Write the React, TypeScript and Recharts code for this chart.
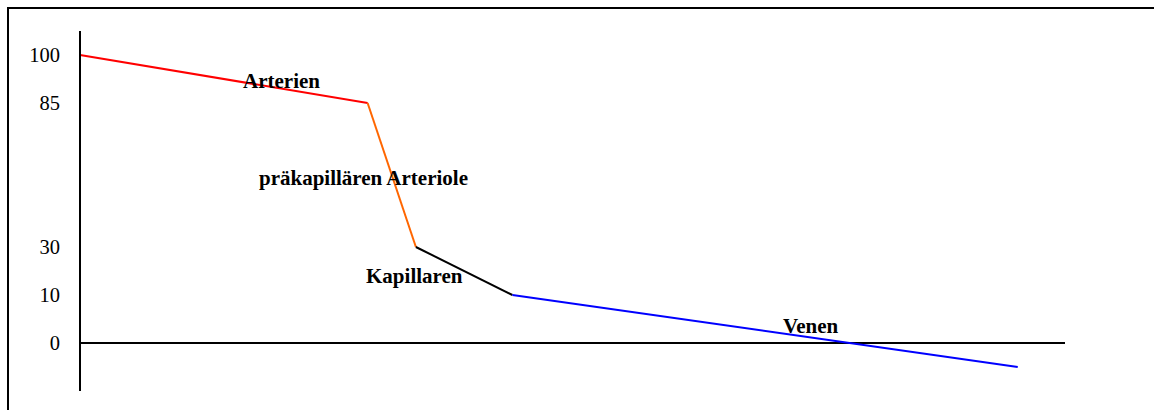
import React from 'react';
import { LineChart, Line, XAxis, YAxis, ReferenceLine, ReferenceDot } from 'recharts';

// Pressure tick labels and the slot (row) each sits in on the non-linear axis
const pressureTicks = [0, 10, 30, 85, 100];
const tickSlots = [0, 1, 2, 5, 6];

// Curve points: relative distance along the vessel tree and pressure
const distance = [0, 29.2, 34.1, 43.9, 95.2];
const pressure = [100, 85, 30, 10, -5];
const segmentColors = ['#ff0000', '#ff6600', '#000000', '#0000ff'];

// Section labels (anchored at text start / baseline, in data units)
const labelTexts = ['Arterien', 'präkapillären Arteriole', 'Kapillaren', 'Venen'];
const labelDistance = [16.55, 18.17, 29.04, 71.37];
const labelPressure = [89.7, 53.7, 15, 2.1];

function toSlot(v: number): number {
  if (v <= pressureTicks[0]) {
    return tickSlots[0] + (v - pressureTicks[0]) / (pressureTicks[1] - pressureTicks[0]);
  }
  for (let i = 0; i < pressureTicks.length - 1; i++) {
    const a = pressureTicks[i];
    const b = pressureTicks[i + 1];
    if (v >= a && v <= b) {
      return tickSlots[i] + ((v - a) / (b - a)) * (tickSlots[i + 1] - tickSlots[i]);
    }
  }
  const n = pressureTicks.length - 1;
  return tickSlots[n] + ((v - pressureTicks[n]) / (pressureTicks[n] - pressureTicks[n - 1])) * (tickSlots[n] - tickSlots[n - 1]);
}

const rows = distance.map((x, i) => {
  const row: Record<string, number | null> = { x };
  segmentColors.forEach((_, j) => {
    row['s' + j] = i === j || i === j + 1 ? toSlot(pressure[i]) : null;
  });
  return row;
});

const serif = "'Liberation Serif', 'Times New Roman', serif";

export default function App() {
  return (
    <div style={{ position: 'fixed', left: 0, top: 0, width: 1154, height: 410, overflow: 'hidden', background: '#fff', fontFamily: serif }}>
      <div style={{ position: 'absolute', left: 7, top: 7, width: 1170, height: 430, borderTop: '2px solid #000', borderLeft: '2px solid #000' }} />
      <div style={{ position: 'absolute', left: 8, top: 8 }}>
        <LineChart width={1146} height={402} data={rows} margin={{ top: 23, right: 89, bottom: 19, left: 0 }} style={{ fontFamily: serif }}>
          <XAxis dataKey="x" type="number" domain={[0, 100]} hide />
          <YAxis
            type="number"
            domain={[-1, 6.5]}
            ticks={tickSlots}
            interval={0}
            width={72}
            tickFormatter={(v: number) => String(pressureTicks[tickSlots.indexOf(v)])}
            axisLine={{ stroke: '#000', strokeWidth: 2 }}
            tickLine={false}
            tickSize={0}
            tickMargin={20}
            tick={{ fill: '#000', fontSize: 20.5, fontFamily: serif }}
          />
          <ReferenceLine y={toSlot(0)} stroke="#000" strokeWidth={2} ifOverflow="extendDomain" />
          {segmentColors.map((c, j) => (
            <Line
              key={j}
              type="linear"
              dataKey={'s' + j}
              stroke={c}
              strokeWidth={2}
              dot={false}
              activeDot={false}
              connectNulls={false}
              isAnimationActive={false}
            />
          ))}
          {labelTexts.map((t, i) => (
            <ReferenceDot
              key={t}
              x={labelDistance[i]}
              y={toSlot(labelPressure[i])}
              r={0}
              shape={(p: any) => (
                <text x={p.cx} y={p.cy} fill="#000" style={{ fontFamily: serif, fontWeight: 700, fontSize: 21 }}>
                  {t}
                </text>
              )}
            />
          ))}
        </LineChart>
      </div>
    </div>
  );
}
